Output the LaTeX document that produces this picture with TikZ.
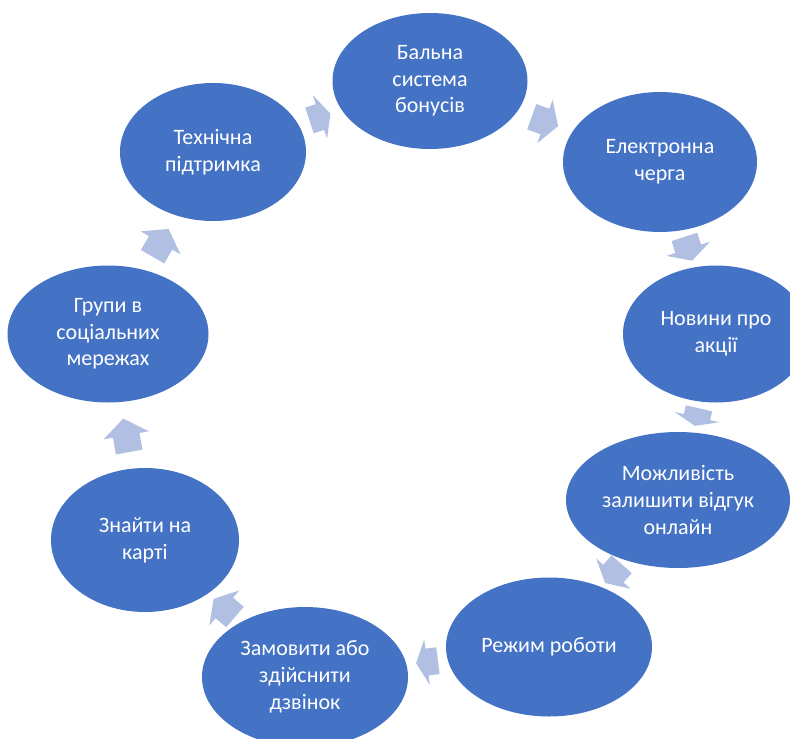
\documentclass[tikz,border=0pt]{standalone}
\usepackage{fontspec}
\setmainfont{Carlito}
\usetikzlibrary{shapes.geometric}
\definecolor{ovalblue}{HTML}{4472C4}
\definecolor{arrowblue}{HTML}{B1C0E2}

\begin{document}
\begin{tikzpicture}[x=1pt, y=-1pt,
  oval/.style={ellipse, fill=ovalblue, text=white, align=center, inner sep=0pt, font=\fontsize{22}{26.7}\selectfont},
  cyclearrow/.pic={\fill[arrowblue] (-#1/2,-13.5) -- (0,-13.5) -- (0,-23) -- (#1/2,0) -- (0,23) -- (0,13.5) -- (-#1/2,13.5) -- cycle;},
  onpath/.style={midway, sloped, allow upside down}]
\useasboundingbox (0,0) rectangle (790,739);
\node[oval, minimum width=195pt, minimum height=136pt] (bonus) at (430,81) {Бальна\\система\\бонусів};
\node[oval, minimum width=194pt, minimum height=140pt] (queue) at (660,162) {Електронна\\черга};
\node[oval, minimum width=186pt, minimum height=137pt] (news) at (716,334) {Новини про\\акції};
\node[oval, minimum width=224pt, minimum height=136pt] (review) at (678,500) {Можливість\\залишити відгук\\онлайн};
\node[oval, minimum width=206pt, minimum height=139pt] (hours) at (549,647) {Режим роботи};
\node[oval, minimum width=206pt, minimum height=140pt] (call) at (305,677) {Замовити або\\здійснити\\дзвінок};
\node[oval, minimum width=188pt, minimum height=144pt] (map) at (145,540) {Знайти на\\карті};
\node[oval, minimum width=201pt, minimum height=137pt] (groups) at (108,334) {Групи в\\соціальних\\мережах};
\node[oval, minimum width=186pt, minimum height=138pt] (support) at (213,152) {Технічна\\підтримка};
\path (support) -- (bonus) pic[onpath] {cyclearrow=22};
\path (bonus) -- (queue) pic[onpath] {cyclearrow=28};
\path (queue) -- (news) pic[onpath] {cyclearrow=25};
\path (news) -- (review) pic[onpath] {cyclearrow=18};
\path (review) -- (hours) pic[onpath] {cyclearrow=25};
\path (hours) -- (call) pic[onpath] {cyclearrow=22};
\path (call) -- (map) pic[onpath] {cyclearrow=28};
\path (map) -- (groups) pic[onpath] {cyclearrow=34};
\path (groups) -- (support) pic[onpath] {cyclearrow=32};
\end{tikzpicture}
\end{document}
